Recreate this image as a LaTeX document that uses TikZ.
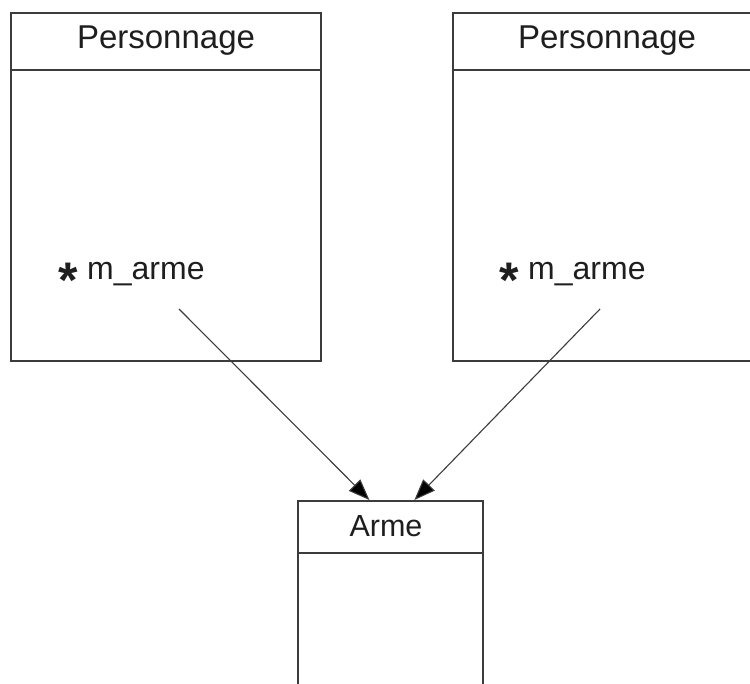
\documentclass[tikz,border=0pt]{standalone}
\usepackage{fontspec}
\setmainfont{Liberation Sans}
\usetikzlibrary{arrows.meta}
\definecolor{linec}{HTML}{3C3C3C}
\definecolor{textc}{HTML}{1E1E1E}
\newcommand{\fsz}[1]{\fontsize{#1}{#1}\selectfont}
\newcommand{\bigast}{\makebox[0pt][r]{\raisebox{-18pt}{\fsz{50}\bfseries *}\hspace{9pt}}}
\tikzset{
  classbox/.style={draw=linec, line width=1.8pt, fill=white, inner sep=0pt},
  divider/.style={draw=linec, line width=1.8pt},
  lbl/.style={text=textc, inner sep=0pt, anchor=base},
  assoc/.style={draw=linec, line width=1.1pt, -{Triangle[length=21pt,width=16pt,fill=black]}},
}
\begin{document}
\begin{tikzpicture}[x=1pt,y=-1pt]
\useasboundingbox (0,0) rectangle (750,684);
\fill[white] (0,0) rectangle (750,684);
\clip (0,0) rectangle (750,684);
% left class
\node[classbox, minimum width=310pt, minimum height=348pt, anchor=north west] (p1) at (10,12) {};
\draw[divider] (10,70) -- (320,70);
\node[lbl, font=\fsz{33}] (p1t) at (166,48.5) {Personnage};
\node[lbl, anchor=base west, font=\fsz{32}] (p1a) at (87,280) {\bigast m\_arme};
% right class
\node[classbox, minimum width=310pt, minimum height=348pt, anchor=north west] (p2) at (452,12) {};
\draw[divider] (452,70) -- (762,70);
\node[lbl, font=\fsz{33}] (p2t) at (607,48.5) {Personnage};
\node[lbl, anchor=base west, font=\fsz{32}] (p2a) at (528,280) {\bigast m\_arme};
% bottom class
\node[classbox, minimum width=185pt, minimum height=220pt, anchor=north west] (a) at (297,500) {};
\draw[divider] (297,553) -- (482,553);
\node[lbl, font=\fsz{30.5}] (at) at (386,536) {Arme};
% connectors
\coordinate (s1) at (179,309);
\coordinate (s2) at (600,309);
\draw[assoc] (s1) -- ([xshift=-21pt]a.north);
\draw[assoc] (s2) -- ([xshift=24pt]a.north);
\end{tikzpicture}
\end{document}
